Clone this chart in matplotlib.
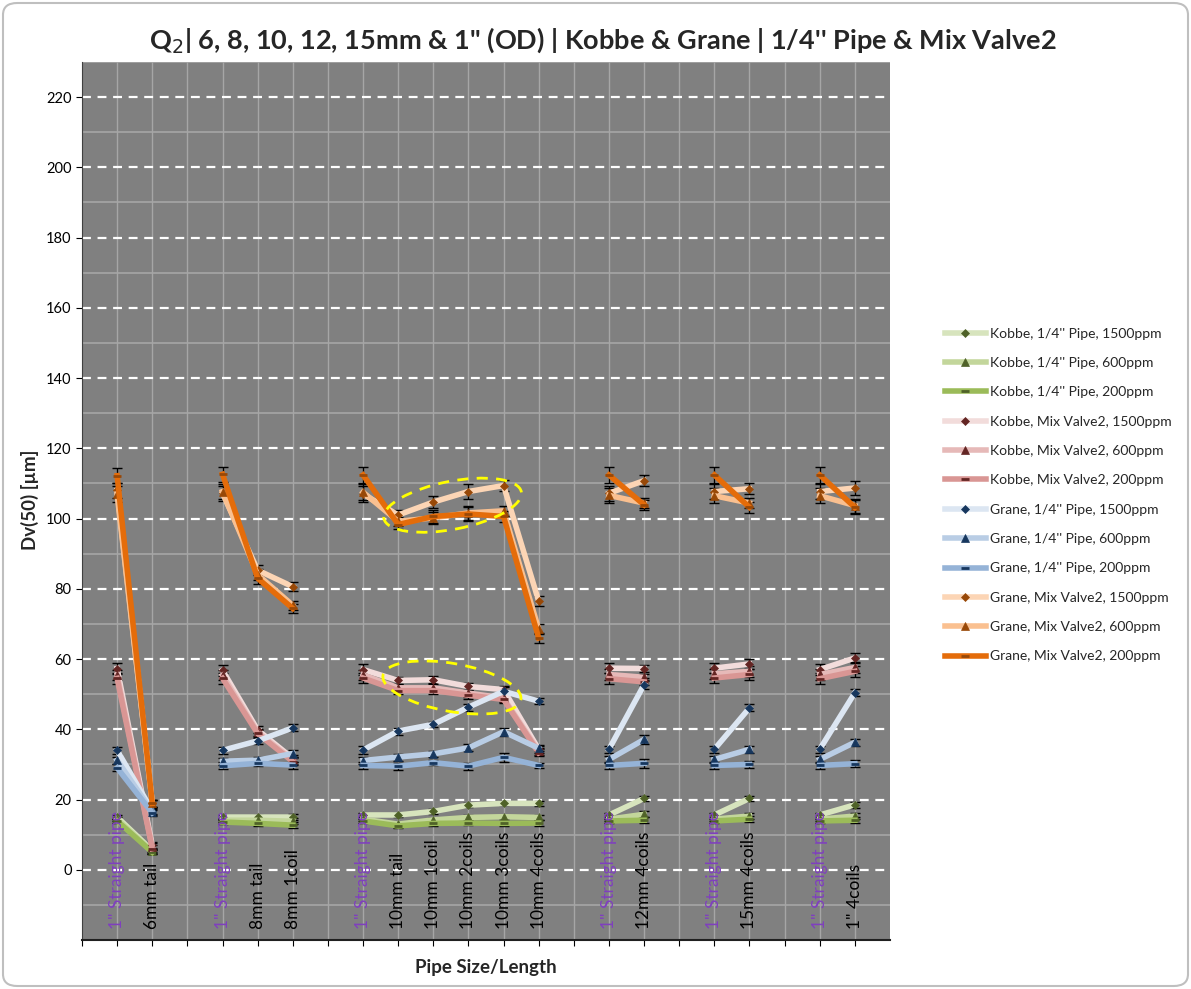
import numpy as np
import matplotlib
matplotlib.use("Agg")
import matplotlib.pyplot as plt
from matplotlib.patches import Ellipse, FancyBboxPatch
from matplotlib.transforms import ScaledTranslation
from matplotlib.lines import Line2D

plt.rcParams["font.family"] = ["Lato", "DejaVu Sans"]

N = None
x_labels = ['1" Straight pipe', "6mm tail", "",
            '1" Straight pipe', "8mm tail", "8mm 1coil", "",
            '1" Straight pipe', "10mm tail", "10mm 1coil", "10mm 2coils", "10mm 3coils", "10mm 4coils", "",
            '1" Straight pipe', "12mm 4coils", "",
            '1" Straight pipe', "15mm 4coils", "",
            '1" Straight pipe', '1" 4coils']

# values (Dv50, µm) per series, None in the gaps between groups
kobbe_pipe_1500 = [15.0, 5.5, N, 15.0, 15.0, 15.0, N, 15.6, 15.6, 16.6, 18.4, 18.9, 18.9, N, 15.6, 20.3, N, 15.6, 20.3, N, 15.6, 18.5]
kobbe_pipe_600 = [14.4, 5.2, N, 14.1, 14.1, 13.8, N, 14.4, 13.0, 14.2, 14.9, 15.1, 14.9, N, 14.4, 15.8, N, 14.4, 15.3, N, 14.4, 15.3]
kobbe_pipe_200 = [13.9, 5.0, N, 13.6, 13.2, 12.7, N, 13.9, 12.5, 13.2, 13.3, 13.2, 13.3, N, 13.9, 14.1, N, 13.9, 14.4, N, 13.9, 14.1]
kobbe_mv_1500 = [57.3, 7.0, N, 56.8, 39.8, 31.7, N, 57.0, 53.9, 54.1, 52.2, 51.3, 34.3, N, 57.4, 57.3, N, 57.4, 58.6, N, 57.0, 60.3]
kobbe_mv_600 = [55.5, 6.5, N, 55.4, 39.2, 31.2, N, 55.5, 51.8, 51.8, 50.3, 48.9, 33.8, N, 55.6, 54.8, N, 55.8, 56.5, N, 55.6, 57.6]
kobbe_mv_200 = [54.5, 6.0, N, 54.5, 38.8, 30.8, N, 54.6, 51.0, 51.0, 49.7, 48.5, 33.3, N, 54.4, 53.5, N, 54.6, 55.6, N, 54.4, 56.5]
grane_pipe_1500 = [34.0, 16.8, N, 34.0, 36.7, 40.4, N, 34.1, 39.5, 41.4, 46.3, 50.8, 48.0, N, 34.3, 52.7, N, 34.3, 46.1, N, 34.3, 50.4]
grane_pipe_600 = [31.2, 16.5, N, 30.9, 31.2, 33.1, N, 31.1, 32.1, 33.0, 34.7, 39.3, 34.6, N, 31.4, 37.1, N, 31.4, 34.3, N, 31.4, 36.3]
grane_pipe_200 = [29.0, 16.2, N, 29.6, 30.3, 29.8, N, 29.7, 29.5, 30.5, 29.5, 32.0, 29.7, N, 29.7, 30.3, N, 29.7, 30.0, N, 29.7, 30.2]
grane_mv_1500 = [108.0, 19.0, N, 107.2, 85.3, 80.6, N, 107.0, 101.0, 104.7, 107.7, 109.4, 76.5, N, 107.2, 110.8, N, 107.7, 108.5, N, 107.7, 108.7]
grane_mv_600 = [107.0, 19.0, N, 107.7, 84.0, 75.3, N, 107.5, 99.2, 100.2, 101.6, 102.2, 68.5, N, 106.6, 104.4, N, 106.5, 104.4, N, 106.5, 103.7]
grane_mv_200 = [112.2, 18.9, N, 112.6, 83.0, 74.4, N, 112.4, 98.3, 100.6, 101.3, 100.6, 66.0, N, 112.4, 103.9, N, 112.4, 103.2, N, 112.4, 103.2]

# error bar half-widths
err_small = [0.6, 0.6, N, 0.6, 0.6, 0.8, N, 0.6, 0.6, 0.6, 0.6, 0.6, 0.8, N, 0.6, 0.8, N, 0.6, 0.8, N, 0.6, 0.8]
err_kobbe_mv = [1.5, 1.0, N, 1.5, 1.0, 1.0, N, 1.5, 1.0, 1.0, 1.0, 1.0, 1.0, N, 1.5, 1.0, N, 1.5, 1.5, N, 1.5, 1.5]
err_grane_pipe = [1.0, 0.8, N, 1.0, 0.8, 1.0, N, 1.0, 1.0, 0.8, 1.0, 1.2, 0.8, N, 1.0, 1.2, N, 1.0, 1.0, N, 1.0, 1.0]
err_grane_mv = [2.2, 1.0, N, 2.2, 1.5, 1.2, N, 2.2, 1.3, 1.8, 2.0, 1.5, 1.5, N, 2.2, 1.5, N, 2.2, 1.5, N, 2.2, 2.0]

series = [
    ("Kobbe, 1/4'' Pipe, 1500ppm", kobbe_pipe_1500, err_small, "#d7e4bd", "#4f6228", "D"),
    ("Kobbe, 1/4'' Pipe, 600ppm", kobbe_pipe_600, err_small, "#c3d69b", "#4f6228", "^"),
    ("Kobbe, 1/4'' Pipe, 200ppm", kobbe_pipe_200, err_small, "#9bbb59", "#4f6228", "_"),
    ("Kobbe, Mix Valve2, 1500ppm", kobbe_mv_1500, err_kobbe_mv, "#f2dcdb", "#632523", "D"),
    ("Kobbe, Mix Valve2, 600ppm", kobbe_mv_600, err_kobbe_mv, "#e6b9b8", "#632523", "^"),
    ("Kobbe, Mix Valve2, 200ppm", kobbe_mv_200, err_kobbe_mv, "#d99694", "#632523", "_"),
    ("Grane, 1/4'' Pipe, 1500ppm", grane_pipe_1500, err_grane_pipe, "#dce6f2", "#17375e", "D"),
    ("Grane, 1/4'' Pipe, 600ppm", grane_pipe_600, err_grane_pipe, "#b9cde5", "#17375e", "^"),
    ("Grane, 1/4'' Pipe, 200ppm", grane_pipe_200, err_grane_pipe, "#95b3d7", "#17375e", "_"),
    ("Grane, Mix Valve2, 1500ppm", grane_mv_1500, err_grane_mv, "#fcd5b5", "#984807", "D"),
    ("Grane, Mix Valve2, 600ppm", grane_mv_600, err_grane_mv, "#fac090", "#984807", "^"),
    ("Grane, Mix Valve2, 200ppm", grane_mv_200, err_grane_mv, "#e46c0a", "#984807", "_"),
]

fig = plt.figure(figsize=(11.91, 9.89), dpi=100)
fig.patch.set_facecolor("white")
ax = fig.add_axes([82 / 1191, 49 / 989, 808 / 1191, 878 / 989])
ax.set_facecolor("#808080")

x = np.arange(1, len(x_labels) + 1)

# grid
for xv in range(1, len(x_labels) + 1):
    ax.axvline(xv, color="#a6a6a6", lw=1, zorder=0)
for yv in range(-10, 231, 20):
    ax.axhline(yv, color="#a6a6a6", lw=1.2, zorder=0)
for yv in range(0, 221, 20):
    ax.axhline(yv, color="white", lw=1.6, ls=(0, (4, 3)), zorder=0.5)

handles = []
for label, vals, errs, col, mcol, mk in series:
    y = np.array([np.nan if v is None else v for v in vals], dtype=float)
    e = np.array([np.nan if v is None else v for v in errs], dtype=float)
    ms = 4.5 if mk == "D" else (5.5 if mk == "^" else 6)
    ax.errorbar(x, y, yerr=e, fmt="none", ecolor="black", elinewidth=1,
                capsize=3.5, capthick=1, zorder=2)
    ax.plot(x, y, color=col, lw=4, marker=mk, ms=ms, mfc=mcol, mec=mcol,
            mew=2 if mk == "_" else 0.5, zorder=3, solid_joinstyle="round")
    handles.append(Line2D([], [], color=col, lw=4, marker=mk, ms=ms, mfc=mcol,
                          mec=mcol, mew=2 if mk == "_" else 0.5))

# category labels drawn inside plot area
for xv, lab in zip(x, x_labels):
    if not lab:
        continue
    c = "#7f3fbf" if "Straight" in lab else "black"
    ax.text(xv, -17.0, lab, rotation=90, ha="center", va="bottom",
            fontsize=12.5, color=c, zorder=4)

# highlight ellipses (sized in inches so they stay round)
for xc, yc, ang in [(10.55, 103.8, 11), (10.53, 51.9, -10)]:
    tr = fig.dpi_scale_trans + ScaledTranslation(xc, yc, ax.transData)
    ax.add_patch(Ellipse((0, 0), 1.40, 0.48, angle=ang, transform=tr, fill=False,
                         edgecolor="#ffff00", lw=2, ls=(0, (4, 3)), zorder=5))

ax.set_xlim(0, len(x_labels) + 1)
ax.set_ylim(-20, 230)
ax.set_yticks(range(0, 221, 20))
ax.set_xticks(range(0, len(x_labels) + 1))
ax.set_xticklabels([])
ax.tick_params(axis="y", labelsize=10.5, length=4, color="black")
ax.tick_params(axis="x", length=4, direction="out")
ax.spines["top"].set_visible(False)
ax.spines["right"].set_visible(False)
ax.spines["left"].set_color("#404040")
ax.spines["bottom"].set_color("#202020")
ax.spines["bottom"].set_linewidth(1.5)

fig.text(0.506, 1 - 40 / 989, "Q$_2$| 6, 8, 10, 12, 15mm & 1\" (OD) | Kobbe & Grane | 1/4'' Pipe & Mix Valve2",
         ha="center", va="center", fontsize=19.5, fontweight="bold", color="#262626")
fig.text(30 / 1191, 1 - 500 / 989, "Dv(50) [µm]", rotation=90, ha="center", va="center",
         fontsize=13.5, fontweight="bold", color="#262626")
fig.text(486 / 1191, 1 - 968 / 989, "Pipe Size/Length", ha="center", va="center",
         fontsize=13.5, fontweight="bold", color="#262626")

fig.legend(handles, [s[0] for s in series], loc="upper left",
           bbox_to_anchor=(932 / 1191, 1 - 315 / 989), frameon=False,
           fontsize=10, labelspacing=1.25, handlelength=3.0, handletextpad=0.3,
           numpoints=1, labelcolor="#262626")

fig.patches.append(FancyBboxPatch((3 / 1191, 3 / 989), 1185 / 1191, 983 / 989,
                                  boxstyle="round,pad=0,rounding_size=0.012",
                                  transform=fig.transFigure, fill=False,
                                  edgecolor="#bfbfbf", lw=1.5))

fig.savefig("out.png", dpi=100)
